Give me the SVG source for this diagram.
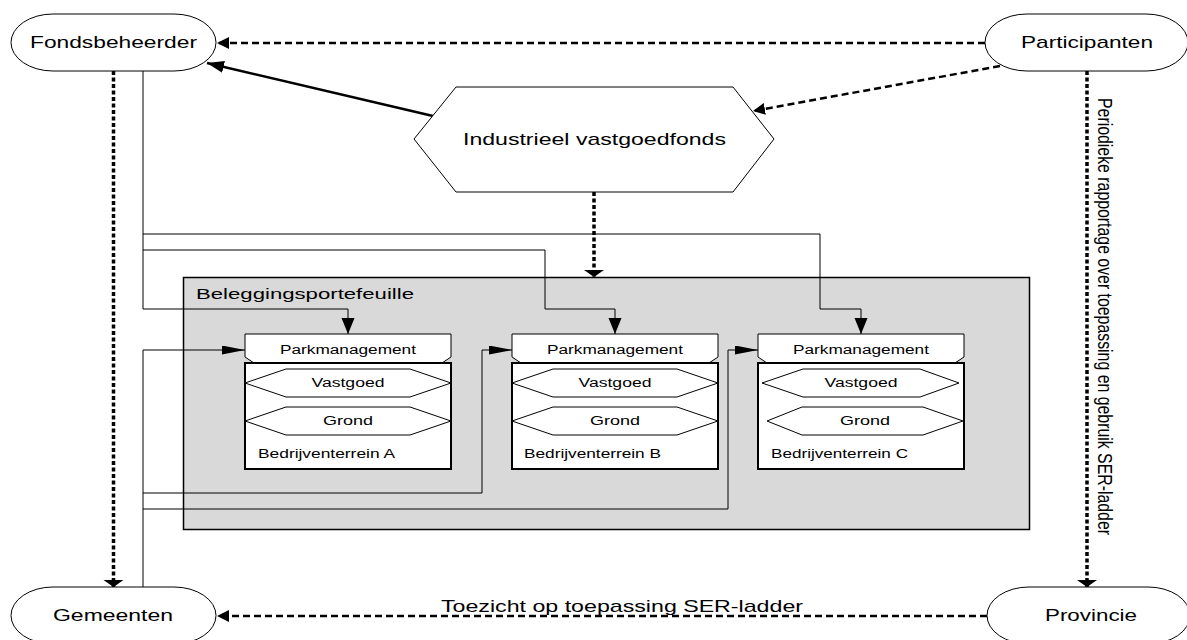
<svg xmlns="http://www.w3.org/2000/svg" width="1187" height="640" viewBox="0 0 1187 640">
  <style>
    text { font-family: "Liberation Sans", Arial, sans-serif; fill: #000; }
    .shape { fill: #fff; stroke: #000; stroke-width: 1; }
    .thin { fill: none; stroke: #000; stroke-width: 1; }
    .bold { fill: none; stroke: #000; stroke-width: 2.5; }
    .dash { fill: none; stroke: #000; stroke-width: 2.5; stroke-dasharray: 7 4; }
    .dot { fill: none; stroke: #000; stroke-width: 3.5; stroke-dasharray: 4 2.5; }
    .big { font-size: 17px; text-anchor: middle; }
    .small { font-size: 12.5px; }
    .mid { text-anchor: middle; }
  </style>
  <defs>
    <!-- filled arrowheads, sized per line style -->
    <marker id="ah-thinH" markerUnits="userSpaceOnUse" orient="auto" markerWidth="24" markerHeight="10" refX="23" refY="4.5" viewBox="0 0 24 10">
      <path d="M0,0 L23,4.5 L0,9 z" fill="#000"/>
    </marker>
    <marker id="ah-thinV" markerUnits="userSpaceOnUse" orient="auto" markerWidth="17" markerHeight="14" refX="16" refY="6.5" viewBox="0 0 17 14">
      <path d="M0,0 L16,6.5 L0,13 z" fill="#000"/>
    </marker>
    <marker id="ah-dot" markerUnits="userSpaceOnUse" orient="auto" markerWidth="8" markerHeight="21" refX="7" refY="10" viewBox="0 0 8 21">
      <path d="M0,0 L7,10 L0,20 z" fill="#000"/>
    </marker>
    <marker id="ah-dash" markerUnits="userSpaceOnUse" orient="auto" markerWidth="13" markerHeight="13" refX="12" refY="6" viewBox="0 0 13 13">
      <path d="M0,0 L12,6 L0,12 z" fill="#000"/>
    </marker>
    <marker id="ah-bold" markerUnits="userSpaceOnUse" orient="auto" markerWidth="18" markerHeight="13" refX="17" refY="6" viewBox="0 0 18 13">
      <path d="M0,0 L17,6 L0,12 z" fill="#000"/>
    </marker>
  </defs>

  <!-- portfolio container -->
  <g id="beleggingsportefeuille">
    <rect x="183.5" y="277.5" width="846" height="252" fill="#d9d9d9" stroke="#000" stroke-width="1.5"/>
    <text x="196" y="299" font-size="15" textLength="218" lengthAdjust="spacingAndGlyphs">Beleggingsportefeuille</text>
  </g>

  <!-- connectors -->
  <g id="connectors">
    <!-- Fondsbeheerder to each Parkmanagement -->
    <path class="thin" d="M143,71 V309 H348 V334" marker-end="url(#ah-thinV)"/>
    <path class="thin" d="M143,250 H545 V309 H615 V334" marker-end="url(#ah-thinV)"/>
    <path class="thin" d="M143,234 H820 V309 H861 V334" marker-end="url(#ah-thinV)"/>
    <!-- Gemeenten to each Parkmanagement -->
    <path class="thin" d="M143,587 V350 H245" marker-end="url(#ah-thinH)"/>
    <path class="thin" d="M143,493 H482 V350 H512" marker-end="url(#ah-thinH)"/>
    <path class="thin" d="M143,509 H728 V350 H758" marker-end="url(#ah-thinH)"/>
    <!-- dotted flows -->
    <path class="dot" d="M113.5,71 V587" marker-end="url(#ah-dot)"/>
    <path class="dot" d="M594,192 V277" marker-end="url(#ah-dot)"/>
    <path class="dot" d="M1087,71 V587" marker-end="url(#ah-dot)"/>
    <!-- dashed flows -->
    <path class="dash" d="M985,43 H217" marker-end="url(#ah-dash)"/>
    <path class="dash" d="M1000,66 L753,111" marker-end="url(#ah-dash)"/>
    <path class="dash" d="M987,616 H217" marker-end="url(#ah-dash)"/>
    <!-- fund to manager -->
    <path class="bold" d="M433,116 L207,63" marker-end="url(#ah-bold)"/>
    <!-- labels -->
    <text x="622" y="612" font-size="17" text-anchor="middle" textLength="362" lengthAdjust="spacingAndGlyphs">Toezicht op toepassing SER-ladder</text>
    <text transform="translate(1098,98) scale(1.25,1) rotate(90)" font-size="16" textLength="437" lengthAdjust="spacingAndGlyphs">Periodieke rapportage over toepassing en gebruik SER-ladder</text>
  </g>

  <!-- actors -->
  <g id="fondsbeheerder">
    <rect class="shape" x="11" y="14" width="205" height="57" rx="42" ry="28.5"/>
    <text class="big" x="113.5" y="48" textLength="167" lengthAdjust="spacingAndGlyphs">Fondsbeheerder</text>
  </g>
  <g id="participanten">
    <rect class="shape" x="985" y="14" width="203" height="57" rx="42" ry="28.5"/>
    <text class="big" x="1087" y="48" textLength="132" lengthAdjust="spacingAndGlyphs">Participanten</text>
  </g>
  <g id="gemeenten">
    <rect class="shape" x="11" y="587" width="205" height="57" rx="42" ry="28.5"/>
    <text class="big" x="113" y="621" textLength="120" lengthAdjust="spacingAndGlyphs">Gemeenten</text>
  </g>
  <g id="provincie">
    <rect class="shape" x="987" y="587" width="203" height="57" rx="42" ry="28.5"/>
    <text class="big" x="1091" y="621" textLength="92" lengthAdjust="spacingAndGlyphs">Provincie</text>
  </g>

  <!-- fund -->
  <g id="industrieel-vastgoedfonds">
    <polygon class="shape" points="414,139 456,87 733,87 774,139 733,192 456,192"/>
    <text class="big" x="594.5" y="145" font-size="17.5" textLength="263" lengthAdjust="spacingAndGlyphs">Industrieel vastgoedfonds</text>
  </g>

  <!-- business parks -->
  <g id="bedrijventerrein-a" transform="translate(245,334)">
    <polygon class="shape" points="0,0 206,0 206,23 197,29 9,29 0,23"/>
    <text class="small mid" x="103" y="20" textLength="136" lengthAdjust="spacingAndGlyphs">Parkmanagement</text>
    <rect x="0" y="29" width="206" height="106" fill="#fff" stroke="#000" stroke-width="2"/>
    <polygon class="shape" points="0,49 41,35 165,35 206,49 165,63 41,63"/>
    <text class="small mid" x="103" y="53" textLength="73" lengthAdjust="spacingAndGlyphs">Vastgoed</text>
    <polygon class="shape" points="0,87 41,73 165,73 206,87 165,101 41,101"/>
    <text class="small mid" x="103" y="91" textLength="50" lengthAdjust="spacingAndGlyphs">Grond</text>
    <text class="small" x="13" y="124" textLength="137" lengthAdjust="spacingAndGlyphs">Bedrijventerrein A</text>
  </g>
  <g id="bedrijventerrein-b" transform="translate(512,334)">
    <polygon class="shape" points="0,0 206,0 206,23 197,29 9,29 0,23"/>
    <text class="small mid" x="103" y="20" textLength="136" lengthAdjust="spacingAndGlyphs">Parkmanagement</text>
    <rect x="0" y="29" width="206" height="106" fill="#fff" stroke="#000" stroke-width="2"/>
    <polygon class="shape" points="0,49 41,35 165,35 206,49 165,63 41,63"/>
    <text class="small mid" x="103" y="53" textLength="73" lengthAdjust="spacingAndGlyphs">Vastgoed</text>
    <polygon class="shape" points="0,87 41,73 165,73 206,87 165,101 41,101"/>
    <text class="small mid" x="103" y="91" textLength="50" lengthAdjust="spacingAndGlyphs">Grond</text>
    <text class="small" x="12" y="124" textLength="137" lengthAdjust="spacingAndGlyphs">Bedrijventerrein B</text>
  </g>
  <g id="bedrijventerrein-c" transform="translate(758,334)">
    <polygon class="shape" points="0,0 206,0 206,23 197,29 9,29 0,23"/>
    <text class="small mid" x="103" y="20" textLength="136" lengthAdjust="spacingAndGlyphs">Parkmanagement</text>
    <rect x="0" y="29" width="206" height="106" fill="#fff" stroke="#000" stroke-width="2"/>
    <polygon class="shape" points="4,49 45,35 162,35 201,49 162,63 45,63"/>
    <text class="small mid" x="103" y="53" textLength="73" lengthAdjust="spacingAndGlyphs">Vastgoed</text>
    <polygon class="shape" points="9,87 44,73 165,73 205,87 165,101 44,101"/>
    <text class="small mid" x="107" y="91" textLength="50" lengthAdjust="spacingAndGlyphs">Grond</text>
    <text class="small" x="13" y="124" textLength="137" lengthAdjust="spacingAndGlyphs">Bedrijventerrein C</text>
  </g>
</svg>
